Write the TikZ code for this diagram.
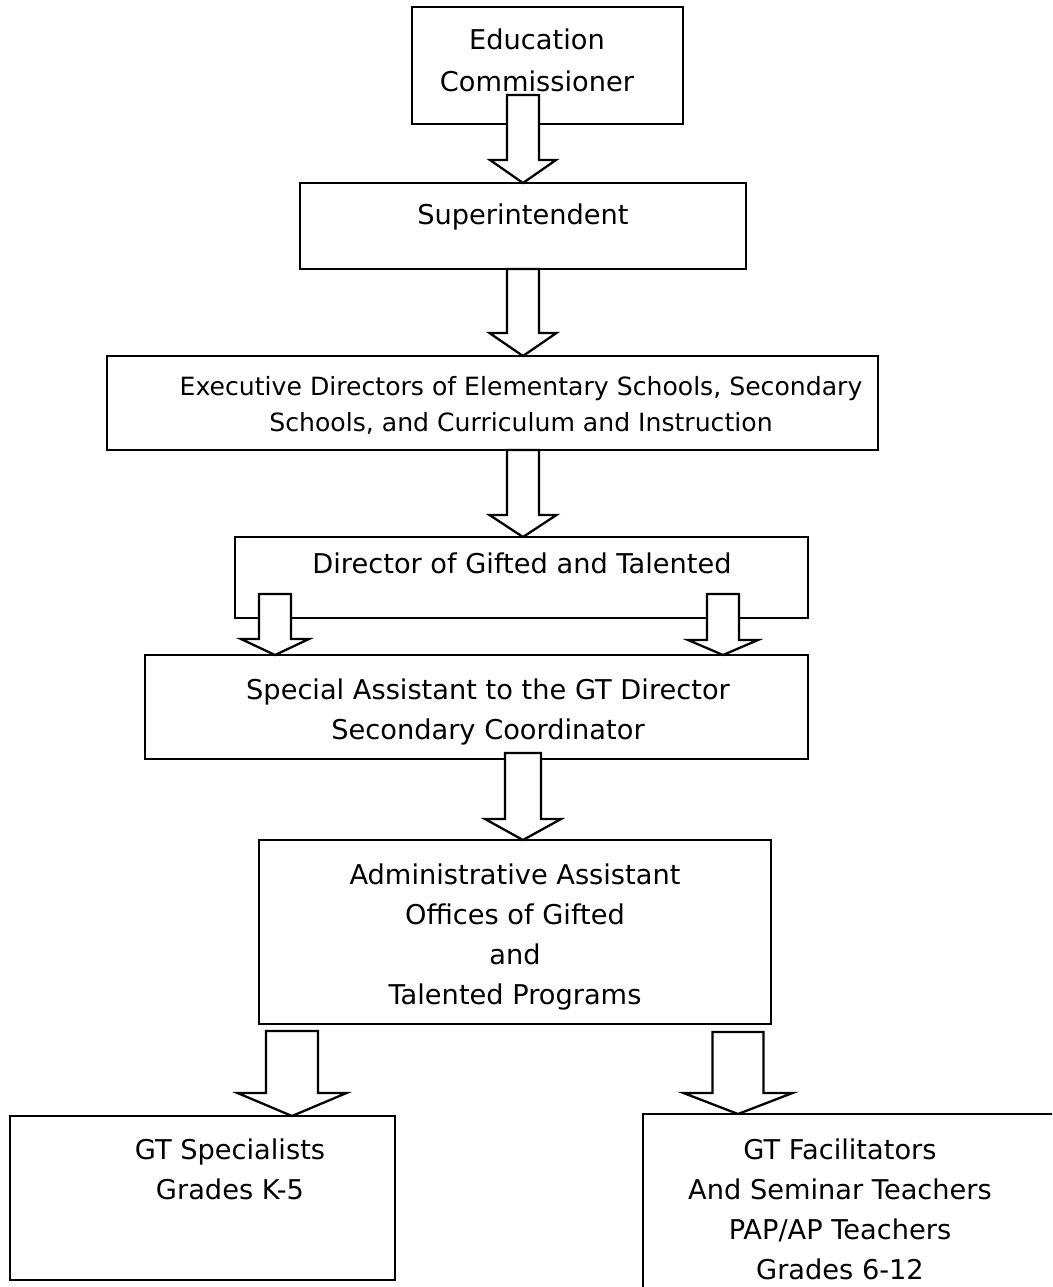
\documentclass[tikz,border=0pt]{standalone}
\usepackage{fontspec}
\setmainfont{DejaVu Sans}
\usetikzlibrary{calc}

\tikzset{
  frame/.style={draw, line width=1.3pt, anchor=north west, inner sep=0pt, outer sep=0pt},
  lbl/.style={anchor=north, align=center, inner sep=0pt, font=\fontsize{15.5}{22.8}\selectfont},
  blockarrow/.style n args={3}{draw, fill=white, line width=1.3pt,
    to path={($(\tikztostart)+(-#1,0)$) -- ($(\tikztotarget)+(-#1,-#3)$)
      -- ($(\tikztotarget)+(-#2,-#3)$) -- (\tikztotarget)
      -- ($(\tikztotarget)+(#2,-#3)$) -- ($(\tikztotarget)+(#1,-#3)$)
      -- ($(\tikztostart)+(#1,0)$) -- cycle}}
}

\begin{document}
\begin{tikzpicture}[x=0.02cm, y=-0.02cm]
    \useasboundingbox (0,0) rectangle (1052,1287);
    \clip (0,0) rectangle (1052,1287);

    % Boxes (top left corners)
    \node[frame, minimum width=5.42cm, minimum height=2.34cm] (ec) at (412,7) {};
    \node[frame, minimum width=8.92cm, minimum height=1.72cm] (sup) at (300,183) {};
    \node[frame, minimum width=15.42cm, minimum height=1.88cm] (exd) at (107,356) {};
    \node[frame, minimum width=11.46cm, minimum height=1.62cm] (gtd) at (235,537) {};
    \node[frame, minimum width=13.26cm, minimum height=2.08cm] (sa) at (145,655) {};
    \node[frame, minimum width=10.24cm, minimum height=3.68cm] (aa) at (259,840) {};
    \node[frame, minimum width=7.70cm, minimum height=3.28cm] (spec) at (10,1116) {};
    \node[frame, minimum width=8.60cm, minimum height=4.20cm] (fac) at (643,1114) {};

    % Texts
    \node[lbl, font=\fontsize{15.5}{23.9}\selectfont] (ec-t) at (537,28) {Education\\Commissioner};
    \node[lbl] (sup-t) at (523,203) {Superintendent};
    \node[lbl, font=\fontsize{14.3}{20.5}\selectfont] (exd-t) at (521,376)
        {Executive Directors of Elementary Schools, Secondary\\Schools, and Curriculum and Instruction};
    \node[lbl] (gtd-t) at (522,552) {Director of Gifted and Talented};
    \node[lbl] (sa-t) at (488,678) {Special Assistant to the GT Director\\Secondary Coordinator};
    \node[lbl] (aa-t) at (515,863) {Administrative Assistant\\Offices of Gifted\\and\\Talented Programs};
    \node[lbl] (spec-t) at (230,1138) {GT Specialists\\Grades K-5};
    \node[lbl] (fac-t) at (840,1138) {GT Facilitators\\And Seminar Teachers\\PAP/AP Teachers\\Grades 6-12};

    % Block arrows
    \coordinate (a1) at (523,95);
    \coordinate (a3) at (523,450);
    \coordinate (a4l) at (275,594);
    \coordinate (a4r) at (723,594);
    \coordinate (a5) at (523,753);
    \coordinate (a6l) at (292,1031);
    \coordinate (a6r) at (738,1032);
    \draw[blockarrow={16}{33}{23}] (a1) to (a1 |- sup.north);
    \draw[blockarrow={16}{33.5}{23}] (sup.south) to (sup.south |- exd.north);
    \draw[blockarrow={16}{33.5}{22}] (a3) to (a3 |- gtd.north);
    \draw[blockarrow={16}{34}{16}] (a4l) to (a4l |- sa.north);
    \draw[blockarrow={16}{35}{15}] (a4r) to (a4r |- sa.north);
    \draw[blockarrow={18}{38}{21}] (a5) to (a5 |- aa.north);
    \draw[blockarrow={26}{54.5}{23}] (a6l) to (a6l |- spec.north);
    \draw[blockarrow={25.5}{54.5}{21}] (a6r) to (a6r |- fac.north);
\end{tikzpicture}
\end{document}
